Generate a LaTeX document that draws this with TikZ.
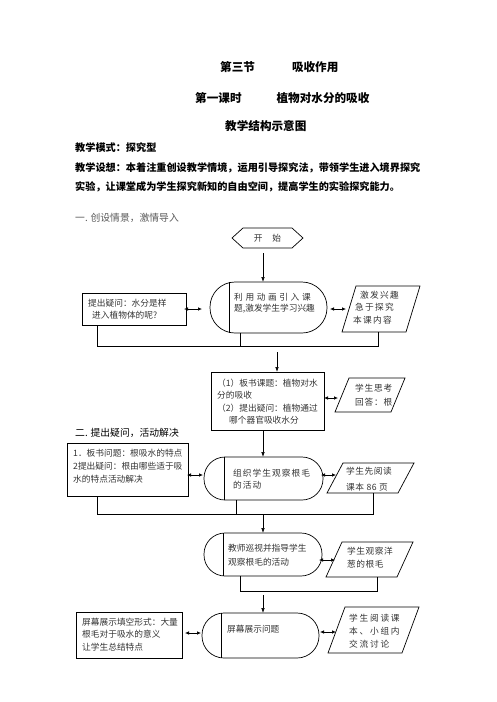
\documentclass[tikz,border=0pt]{standalone}
\usepackage{fontspec}
\setmainfont{Noto Sans CJK SC}
\usetikzlibrary{calc,arrows.meta}
\tikzset{
  shp/.style={draw, line width=0.7pt, inner sep=0pt, outer sep=0pt, rectangle},
  holder/.style={inner sep=0pt, outer sep=0pt, rectangle},
  bt/.style={inner sep=0pt, anchor=west, align=left, text=black!80, font=\fontsize{8.7}{#1}\selectfont},
  bt/.default=12.5,
  bts/.style 2 args={inner sep=0pt, anchor=west, align=left, text=black!80, font=\fontsize{8.7}{#1}\selectfont\addfontfeature{LetterSpace=#2}},
  arr/.style={-{Latex[length=5pt,width=3.6pt]}, line width=0.7pt},
  darr/.style={{Latex[length=4pt,width=3.6pt]}-{Latex[length=4pt,width=3.6pt]}, line width=0.7pt},
  lnk/.style={line width=0.7pt},
  ttl/.style={inner sep=0pt, anchor=west, font=\fontsize{11.6}{14}\selectfont\bfseries},
  body/.style={inner sep=0pt, anchor=west, align=left, font=\fontsize{10.15}{19.5}\selectfont\bfseries},
  sec/.style={inner sep=0pt, anchor=west, font=\fontsize{9.8}{12}\selectfont}
}
\newcommand{\ls}[1]{\addfontfeature{LetterSpace=#1}}
\begin{document}
\begin{tikzpicture}[x=1pt,y=-1pt]
\useasboundingbox (0,0) rectangle (496,702);

% headings
\node[ttl] (h1) at (220,67) {第三节\hspace{37pt}吸收作用};
\node[ttl] (h2) at (195,98) {第一课时\hspace{35pt}植物对水分的吸收};
\node[ttl] (h3) at (225,126) {教学结构示意图};
\node[body] (h4) at (75,167.5) {教学模式：探究型\\教学设想：本着注重创设教学情境，运用引导探究法，带领学生进入境界探究\\实验，让课堂成为学生探究新知的自由空间，提高学生的实验探究能力。};
\node[sec, text=black!65] (s1) at (75,218) {一. 创设情景，激情导入};
\node[sec] (s2) at (75,433) {二. 提出疑问，活动解决};

% start
\node[holder, minimum width=49pt, minimum height=20pt, text=black!80, font=\fontsize{8.7}{10}\selectfont] (st) at (267.5,238) {开\hspace{10pt}始};
\draw[lnk] ($(st.west)+(-11,0)$) -- (st.north west) -- (st.north east) -- ($(st.east)+(11,0)$) -- (st.south east) -- (st.south west) -- cycle;

% row 1
\node[shp, rounded corners=25pt, minimum width=117pt, minimum height=51pt] (r1) at (268.5,307.5) {};
\draw[lnk] ($(r1.north west)+(19.5,0)$) -- ($(r1.south west)+(19.5,0)$);
\node[bt=11] (tr1) at (234,303.5) {{\ls{30}利用动画引入课}\\题,激发学生学习兴趣};

\node[shp, minimum width=104pt, minimum height=32pt] (l1) at (134,309) {};
\node[bt=12] (tl1) at (88,309) {提出疑问：水分是样\\\hspace*{4pt}进入植物体的呢?};

\node[holder, minimum width=78pt, minimum height=46pt] (p1) at (381,309) {};
\draw[lnk] (p1.south west) -- ($(p1.south east)+(-14,0)$) -- (p1.north east) -- ($(p1.north west)+(14,0)$) -- cycle;
\node[bts={12.5}{15}] (tp1) at (353,307.5) {\hspace*{7pt}激发兴趣\\\hspace*{2pt}急于探究\\本课内容};

% row 2
\node[shp, minimum width=113pt, minimum height=58pt] (b2) at (267.5,401) {};
\node[bt=12.3] (tb2) at (217,401.5) {（1）板书课题：植物对水\\分的吸收\\（2）提出疑问：植物通过\\\hspace*{12pt}哪个器官吸收水分};

\node[holder, minimum width=70pt, minimum height=34pt] (p2) at (370,395) {};
\draw[lnk] (p2.south west) -- ($(p2.south east)+(-14,0)$) -- (p2.north east) -- ($(p2.north west)+(14,0)$) -- cycle;
\node[bts={14}{9}] (tp2) at (355,395) {学生思考\\回答：根};

% row 3
\node[shp, rounded corners=21pt, minimum width=119pt, minimum height=43pt] (r3) at (263.5,478.5) {};
\draw[lnk] ($(r3.north west)+(20,0)$) -- ($(r3.south west)+(20,0)$);
\node[bts={12}{12}] (tr3) at (233,479) {组织学生观察根毛\\的活动};

\node[shp, minimum width=121pt, minimum height=53pt] (l3) at (127.5,469.5) {};
\node[bt=13] (tl3) at (73,466) {1．板书问题：根吸水的特点\\2提出疑问：根由哪些适于吸\\水的特点活动解决};

\node[holder, minimum width=87pt, minimum height=30pt] (p3) at (370.5,478) {};
\draw[lnk] (p3.south west) -- ($(p3.south east)+(-16,0)$) -- (p3.north east) -- ($(p3.north west)+(16,0)$) -- cycle;
\node[bts={16}{6}] (tp3) at (346,479) {学生先阅读\\课本 86 页};

% row 4
\node[shp, rounded corners=21pt, minimum width=118pt, minimum height=43pt] (r4) at (263,554.5) {};
\draw[lnk] ($(r4.north west)+(19,0)$) -- ($(r4.south west)+(19,0)$);
\node[bt=14] (tr4) at (228,555) {教师巡视并指导学生\\观察根毛的活动};

\node[holder, minimum width=87pt, minimum height=35pt] (p4) at (369.5,559.5) {};
\draw[lnk] (p4.south west) -- ($(p4.south east)+(-16,0)$) -- (p4.north east) -- ($(p4.north west)+(16,0)$) -- cycle;
\node[bts={13}{6}] (tp4) at (347,557.5) {学生观察洋\\葱的根毛};

% row 5
\node[shp, rounded corners=22pt, minimum width=117pt, minimum height=45pt] (r5) at (260.5,635.5) {};
\draw[lnk] ($(r5.north west)+(19,0)$) -- ($(r5.south west)+(19,0)$);
\node[bt] (tr5) at (227,629) {屏幕展示问题};

\node[shp, minimum width=106pt, minimum height=46pt] (l5) at (129,635) {};
\node[bt=12.5] (tl5) at (82,634.5) {屏幕展示填空形式：大量\\根毛对于吸水的意义\\让学生总结特点};

\node[holder, minimum width=91pt, minimum height=46pt] (p5) at (373.5,630) {};
\draw[lnk] (p5.south west) -- ($(p5.south east)+(-17,0)$) -- (p5.north east) -- ($(p5.north west)+(17,0)$) -- cycle;
\node[bts={13}{20}] (tp5) at (349,631) {学生阅读课\\本、小组内\\交流讨论};

% vertical arrows
\coordinate (a1) at (263,253);
\draw[arr] (a1) -- (a1 |- r1.north);
\coordinate (a2) at (277,352);
\draw[arr] (a2) -- (a2 |- b2.north);
\coordinate (a3) at (263,430);
\draw[arr] (a3 |- b2.south) -- (a3 |- r3.north);
\coordinate (a4) at (263,514);
\draw[arr] (a4) -- (a4 |- r4.north);
\coordinate (a5) at (263,595);
\draw[arr] (a5) -- (a5 |- r5.north);

% brackets
\coordinate (k1) at (97,346);
\coordinate (k2) at (240,346);
\coordinate (k3) at (378,346);
\draw[lnk] (k1 |- l1.south) -- (k1) -- (k3) -- (k3 |- p1.south);
\draw[lnk] (k2 |- r1.south) -- (k2);

\coordinate (m1) at (97,514);
\coordinate (m2) at (236,514);
\coordinate (m3) at (373,514);
\draw[lnk] (m1 |- l3.south) -- (m1) -- (m3) -- (m3 |- p3.south);
\draw[lnk] (m2 |- r3.south) -- (m2);

\coordinate (n1) at (240,591);
\coordinate (n2) at (377,591);
\draw[lnk] (n1 |- r4.south) -- (n1) -- (n2) -- (n2 |- p4.south);

% double arrows
\coordinate (e1) at (202,309);
\draw[darr] ($(l1.east |- e1)+(-2,0)$) -- (e1);
\coordinate (e2) at (346,309);
\draw[darr] ($(r1.east |- e2)+(3,0)$) -- (e2);
\coordinate (e3) at (338,398);
\draw[darr] (b2.east |- e3) -- (e3);
\coordinate (e4) at (203,475);
\draw[darr] ($(l3.east |- e4)+(-1,0)$) -- (e4);
\coordinate (e5) at (336,475);
\draw[darr] ($(r3.east |- e5)+(-2,0)$) -- (e5);
\coordinate (e6) at (335,560);
\draw[darr] ($(r4.east |- e6)+(-3,0)$) -- (e6);
\coordinate (e7) at (201,633);
\draw[darr] ($(l5.east |- e7)+(3,0)$) -- (e7);
\coordinate (e8) at (336,632);
\draw[darr] ($(r5.east |- e8)+(1,0)$) -- (e8);
\end{tikzpicture}
\end{document}
